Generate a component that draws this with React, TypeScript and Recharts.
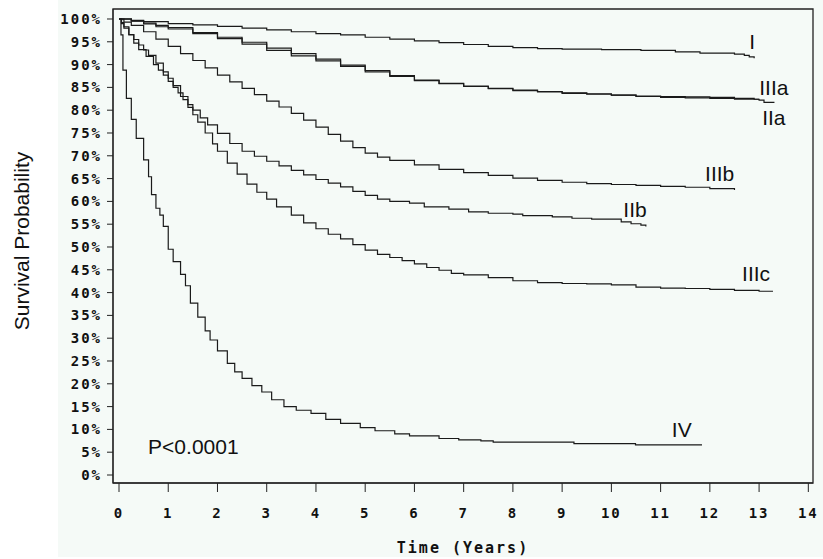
import { LineChart, Line, XAxis, YAxis, ReferenceArea, ReferenceDot } from 'recharts';

// Kaplan-Meier survival by stage, [years, survival %]
const stageI = [
  [0, 100], [0.25, 99.7], [0.5, 99.4], [1, 99.0], [1.5, 98.7], [2, 98.4], [2.5, 98.0], [3, 97.6],
  [3.5, 97.2], [4, 96.8], [4.5, 96.5], [5, 96.0], [5.5, 95.6], [6, 95.2], [6.5, 94.8], [7, 94.4],
  [7.5, 94.0], [8, 93.7], [8.5, 93.5], [9, 93.4], [9.8, 93.3], [10.6, 93.1], [11.3, 92.8],
  [11.8, 92.5], [12.5, 92.3], [12.7, 92.0], [12.8, 91.7], [12.9, 91.4],
];
const stageIIa = [
  [0, 100], [0.25, 99.5], [0.5, 98.9], [0.75, 98.3], [1, 97.8], [1.5, 96.8], [2, 95.7], [2.5, 94.5],
  [3, 93.1], [3.5, 91.9], [4, 90.8], [4.5, 89.6], [5, 88.4], [5.5, 87.4], [6, 86.5], [6.5, 85.8],
  [7, 85.2], [7.5, 84.7], [8, 84.3], [8.5, 84.0], [9, 83.7], [9.5, 83.5], [10, 83.3], [10.5, 83.0],
  [11, 82.8], [11.5, 82.7], [12, 82.6], [12.5, 82.4], [13, 82.2], [13.1, 81.7], [13.3, 81.6],
];
const stageIIIa = [
  [0, 100], [0.25, 99.6], [0.5, 99.1], [0.75, 98.6], [1, 98.1], [1.5, 97.0], [2, 96.0], [2.5, 94.9],
  [3, 93.6], [3.5, 92.4], [4, 91.2], [4.5, 89.9], [5, 88.7], [5.5, 87.6], [6, 86.6], [6.5, 85.9],
  [7, 85.3], [7.5, 84.8], [8, 84.4], [8.5, 84.1], [9, 83.8], [9.5, 83.6], [10, 83.3], [10.5, 83.1],
  [11, 83.0], [11.5, 82.9], [12, 82.8], [12.5, 82.6], [12.9, 82.4], [13.0, 82.4],
];
const stageIIb = [
  [0, 100], [0.05, 99.2], [0.1, 98.3], [0.2, 96.5], [0.3, 94.7], [0.4, 93.3], [0.55, 91.8], [0.7, 90.0],
  [0.8, 88.8], [0.9, 87.7], [1, 86.3], [1.1, 85.0], [1.2, 83.8], [1.3, 82.3], [1.4, 81.2], [1.5, 80.0],
  [1.65, 78.3], [1.8, 76.8], [2, 74.9], [2.25, 72.7], [2.5, 71.0], [2.75, 69.9], [3, 68.8], [3.25, 67.8],
  [3.5, 66.8], [3.75, 65.8], [4, 64.8], [4.25, 64.0], [4.5, 63.2], [4.75, 62.2], [5, 61.3], [5.25, 60.5],
  [5.5, 60.0], [5.9, 59.6], [6.2, 58.8], [6.7, 58.3], [7.1, 57.7], [7.5, 57.4], [8, 57.2], [8.2, 56.9],
  [8.8, 56.6], [9.2, 56.3], [9.6, 56.1], [10.2, 55.5], [10.4, 55.1], [10.6, 54.8], [10.7, 54.5],
];
const stageIIIb = [
  [0, 100], [0.1, 99.3], [0.25, 98.6], [0.5, 97.2], [0.75, 95.6], [1, 94.0], [1.25, 92.4], [1.5, 90.9],
  [1.75, 89.3], [2, 87.7], [2.25, 86.2], [2.5, 84.8], [2.75, 83.4], [3, 82.0], [3.25, 80.7], [3.5, 79.3],
  [3.75, 77.8], [4, 76.3], [4.25, 74.7], [4.5, 73.2], [4.75, 71.8], [5, 70.6], [5.25, 69.7], [5.5, 69.0],
  [6, 68.0], [6.5, 67.0], [7, 66.3], [7.5, 65.7], [8, 65.1], [8.5, 64.6], [9, 64.2], [9.5, 63.9],
  [10, 63.7], [10.5, 63.5], [11, 63.3], [11.5, 63.1], [12, 62.8], [12.5, 62.5],
];
const stageIIIc = [
  [0, 100], [0.05, 99.0], [0.1, 98.0], [0.2, 96.6], [0.3, 95.5], [0.4, 94.3], [0.5, 93.2], [0.6, 92.0],
  [0.75, 90.3], [0.9, 88.4], [1, 87.0], [1.1, 85.4], [1.25, 83.0], [1.4, 80.6], [1.5, 79.0], [1.6, 77.4],
  [1.75, 75.0], [1.9, 72.6], [2, 71.0], [2.2, 68.4], [2.4, 66.0], [2.6, 63.8], [2.8, 62.0], [3, 60.5],
  [3.2, 58.8], [3.5, 57.0], [3.75, 55.3], [4, 54.0], [4.25, 52.8], [4.5, 51.8], [4.75, 50.5], [5, 49.3],
  [5.25, 48.4], [5.5, 47.7], [5.75, 47.0], [6, 46.3], [6.25, 45.5], [6.5, 44.9], [6.75, 44.2], [7, 43.9],
  [7.5, 43.3], [8, 42.6], [8.5, 42.2], [9, 42.0], [9.5, 41.9], [10, 41.7], [10.5, 41.2], [11, 41.0],
  [11.5, 40.9], [12, 40.7], [12.5, 40.5], [13, 40.3], [13.27, 40.2],
];
const stageIV = [
  [0, 100], [0.04, 96.5], [0.08, 88.8], [0.15, 82.6], [0.25, 78.0], [0.35, 73.8], [0.5, 69.1], [0.6, 65.4],
  [0.66, 61.5], [0.75, 58.5], [0.83, 57.0], [0.9, 54.5], [1.0, 49.5], [1.1, 46.8], [1.25, 44.0], [1.35, 41.5],
  [1.45, 37.7], [1.6, 34.6], [1.75, 31.6], [1.85, 29.6], [2.0, 27.2], [2.2, 24.5], [2.35, 22.6], [2.5, 21.2],
  [2.7, 19.6], [2.9, 18.2], [3.1, 16.5], [3.35, 15.0], [3.6, 14.2], [3.9, 13.5], [4.2, 12.2], [4.5, 11.3],
  [4.9, 10.4], [5.2, 9.7], [5.6, 9.0], [5.9, 8.6], [6.5, 8.0], [6.9, 7.7], [7.35, 7.5], [7.6, 7.2],
  [9.24, 6.9], [10.49, 6.6], [11.84, 6.6],
];

const series = [
  { name: 'I', points: stageI, label: [12.86, 95.1] },
  { name: 'IIIa', points: stageIIIa, label: [13.3, 84.9] },
  { name: 'IIa', points: stageIIa, label: [13.3, 78.3] },
  { name: 'IIIb', points: stageIIIb, label: [12.2, 66.2] },
  { name: 'IIb', points: stageIIb, label: [10.48, 58.3] },
  { name: 'IIIc', points: stageIIIc, label: [12.94, 44.1] },
  { name: 'IV', points: stageIV, label: [11.43, 9.9] },
];

const xTicks = [0, 1, 2, 3, 4, 5, 6, 7, 8, 9, 10, 11, 12, 13, 14];
const yTicks = [0, 5, 10, 15, 20, 25, 30, 35, 40, 45, 50, 55, 60, 65, 70, 75, 80, 85, 90, 95, 100];
const xDomain = [-0.122, 14.095];
const yDomain = [-1.754, 102.19];

const tickFont = {
  fontFamily: '"DejaVu Sans Mono", monospace',
  fontSize: 14,
  fontWeight: 'bold',
  fill: '#111',
  letterSpacing: 2,
};
const labelFont = { fontFamily: '"Liberation Sans", Arial, sans-serif', fontSize: 21, fill: '#111' };

export default function App() {
  return (
    <div style={{ position: 'absolute', left: 0, top: 0, width: 823, height: 559, background: '#fff' }}>
      <div style={{ position: 'absolute', left: 58, top: 0, width: 765, height: 557, background: '#f5faf7' }} />
      <div style={{ position: 'absolute', left: 0, top: 0 }}>
        <LineChart width={823} height={559} margin={{ top: 9, right: 10, bottom: 0, left: 0 }}>
          <XAxis
            dataKey="t"
            type="number"
            domain={xDomain}
            ticks={xTicks}
            allowDataOverflow
            height={76}
            stroke="#222"
            tickSize={9}
            tickMargin={16}
            tick={tickFont}
            label={{
              value: 'Time (Years)',
              position: 'center',
              dy: 27,
              ...tickFont,
              fontSize: 15,
            }}
          />
          <YAxis
            type="number"
            domain={yDomain}
            ticks={yTicks}
            allowDataOverflow
            width={113}
            stroke="#222"
            tickSize={6}
            tickMargin={5}
            tick={tickFont}
            tickFormatter={(v) => `${v}%`}
            label={{
              value: 'Survival Probability',
              angle: -90,
              position: 'center',
              dx: -34.5,
              dy: -5,
              ...labelFont,
            }}
          />
          <ReferenceArea
            x1={xDomain[0]}
            x2={xDomain[1]}
            y1={yDomain[0]}
            y2={yDomain[1]}
            fill="none"
            stroke="#222"
            strokeWidth={1.3}
          />
          {series.map((s) => (
            <Line
              key={s.name}
              data={s.points.map(([t, v]) => ({ t, s: v }))}
              dataKey="s"
              type="stepAfter"
              stroke="#1a1a1a"
              strokeWidth={1.2}
              dot={false}
              isAnimationActive={false}
            />
          ))}
          {series.map((s) => (
            <ReferenceDot
              key={`lbl-${s.name}`}
              x={s.label[0]}
              y={s.label[1]}
              r={0}
              fill="none"
              stroke="none"
              label={{ value: s.name, position: 'center', ...labelFont }}
            />
          ))}
          <ReferenceDot
            x={1.51}
            y={6.2}
            r={0}
            fill="none"
            stroke="none"
            label={{ value: 'P<0.0001', position: 'center', ...labelFont }}
          />
        </LineChart>
      </div>
    </div>
  );
}
